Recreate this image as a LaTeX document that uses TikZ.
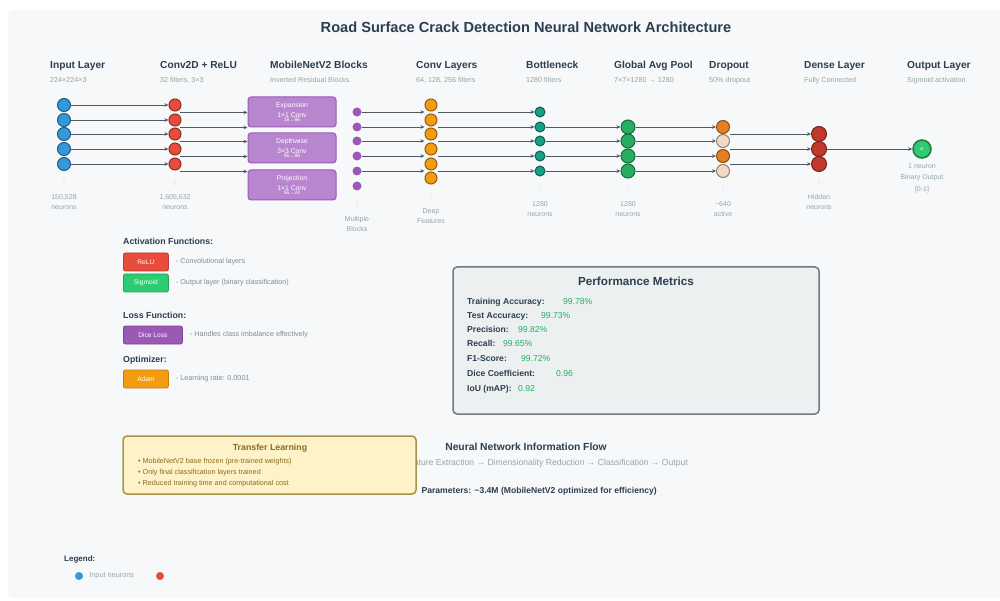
\documentclass[tikz,border=0pt]{standalone}
\usepackage{fontspec}
\setmainfont{Liberation Sans}
\newfontfamily\dejavu{DejaVu Sans}
\usetikzlibrary{positioning,arrows.meta,calc}
\definecolor{inkDark}{HTML}{2C3E50}
\definecolor{inkGray}{HTML}{95A5A6}
\definecolor{descGray}{HTML}{7F8C8D}
\definecolor{panelBg}{HTML}{F7F8FA}
\definecolor{wireGray}{HTML}{4F5A63}
\definecolor{inBlue}{HTML}{3498DB}
\definecolor{convRed}{HTML}{E74C3C}
\definecolor{mobPurple}{HTML}{9B59B6}
\definecolor{mobLight}{HTML}{B886CF}
\definecolor{featOrange}{HTML}{F39C12}
\definecolor{neckTeal}{HTML}{16A085}
\definecolor{poolGreen}{HTML}{27AE60}
\definecolor{dropOrange}{HTML}{E67E22}
\definecolor{dropFaded}{HTML}{F3D9C2}
\definecolor{denseRed}{HTML}{C0392B}
\definecolor{outGreen}{HTML}{2ECC71}
\definecolor{metricBg}{HTML}{ECF0F1}
\definecolor{metricEdge}{HTML}{6F7B7D}
\definecolor{noteBg}{HTML}{FDF2C8}
\definecolor{noteEdge}{HTML}{A8924A}
\definecolor{noteInk}{HTML}{8A6D1E}

\begin{document}
\begin{tikzpicture}[x=1pt, y=-1pt, >={Stealth[length=4pt,width=3.6pt]},
    font=\fontsize{7}{8}\selectfont,
    heading/.style={font=\fontsize{10.2}{12}\selectfont\bfseries, text=inkDark, anchor=base west, inner sep=0},
    sub/.style={font=\fontsize{7.2}{8}\selectfont, text=inkGray, anchor=base west, inner sep=0},
    note/.style={text=inkGray, align=center, inner sep=0, anchor=north, font=\fontsize{7}{10.5}\selectfont},
    vdots/.style={text=inkGray!60, inner sep=0, font=\dejavu\fontsize{7}{7}\selectfont},
    neuron/.style={circle, fill=#1, draw=#1!60!black, line width=1pt, inner sep=0, minimum size=12pt},
    wire/.style={->, draw=wireGray, line width=0.8pt},
    mblock/.style={draw=mobPurple, fill=mobLight, rounded corners=3pt, line width=1pt, minimum width=88pt,
      minimum height=30pt, text=white, align=center, inner sep=0, font=\fontsize{6.8}{7.5}\selectfont},
    tag/.style={fill=#1, draw=#1!80!black, rounded corners=2pt, line width=0.8pt, text=white,
      minimum height=18pt, inner sep=0, anchor=west, font=\fontsize{6.6}{7}\selectfont},
    desc/.style={font=\fontsize{7.2}{8}\selectfont, text=descGray, inner sep=0, anchor=west},
    subhead/.style={font=\fontsize{8.8}{10}\selectfont\bfseries, text=inkDark, anchor=base west, inner sep=0},
    metric/.style={font=\fontsize{8.6}{9}\selectfont\bfseries, text=inkDark, anchor=base west, inner sep=0},
    score/.style={font=\fontsize{8.6}{9}\selectfont, text=poolGreen, anchor=base west, inner sep=0}]
  \useasboundingbox (0,0) rectangle (1000,601);
  \fill[panelBg, rounded corners=6pt] (8,10) rectangle (1008,598);

  \node[font=\fontsize{14.6}{16}\selectfont\bfseries, text=inkDark] (title) at (526,27)
    {Road Surface Crack Detection Neural Network Architecture};

  % ---- layer headings
  \foreach \n/\x/\h/\s in {inp/50/{Input Layer}/{224×224×3}, conv/160/{Conv2D + ReLU}/{32 filters, 3×3},
      mob/270/{MobileNetV2 Blocks}/{Inverted Residual Blocks}, feat/416/{Conv Layers}/{64, 128, 256 filters},
      neck/526/{Bottleneck}/{1280 filters}, pool/614/{Global Avg Pool}/{7×7×1280 → 1280},
      drop/709/{Dropout}/{50\% dropout}, dense/804/{Dense Layer}/{Fully Connected},
      out/907/{Output Layer}/{Sigmoid activation}} {
    \node[heading] (hd-\n) at (\x,69) {\h};
    \node[sub] (sb-\n) at (\x,83) {\s};
  }

  % ---- neurons
  \foreach \y [count=\i] in {105,120,134,149,164} {
    \node[neuron=inBlue, minimum size=13pt] (in\i) at (64,\y) {};
    \node[neuron=convRed] (cv\i) at (175,\y) {};
    \draw[wire] (in\i) -- (cv\i);
  }
  \node[mblock] (mb1) at (292,112) {Expansion\\[2.5pt]1×1 Conv\\[-3pt]{\fontsize{5}{5}\selectfont 16→96}};
  \node[mblock] (mb2) at (292,148) {Depthwise\\[2.5pt]3×3 Conv\\[-3pt]{\fontsize{5}{5}\selectfont 96→96}};
  \node[mblock] (mb3) at (292,185) {Projection\\[2.5pt]1×1 Conv\\[-3pt]{\fontsize{5}{5}\selectfont 96→24}};
  \foreach \i in {1,...,5} {
    \coordinate (cvo\i) at ($(cv\i.south)+(5,1)$);
    \draw[wire] (cvo\i) -- (cvo\i -| mb1.west);
  }
  \foreach \y [count=\i] in {112,127,141,156,171,186}
    \node[circle, fill=mobPurple, inner sep=0, minimum size=9pt] (mp\i) at (357,\y) {};
  \foreach \y [count=\i] in {105,120,134,149,164,178}
    \node[neuron=featOrange] (cl\i) at (431,\y) {};
  \foreach \i in {1,...,5}
    \draw[wire] (mp\i) -- (mp\i -| cl1.west);
  \foreach \y [count=\i] in {112,127,141,156,171} {
    \node[neuron=neckTeal, minimum size=10pt] (bn\i) at (540,\y) {};
    \draw[wire] (bn\i -| cl1.east) -- (bn\i);
  }
  \foreach \y/\c [count=\i] in {127/dropOrange,141/dropFaded,156/dropOrange,171/dropFaded} {
    \node[neuron=poolGreen, minimum size=14pt] (gp\i) at (628,\y) {};
    \node[neuron=\c, minimum size=13pt] (dp\i) at (723,\y) {};
  }
  \foreach \i/\j in {1/2,2/3,3/4,4/5} {
    \draw[wire] (bn\j) -- (gp\i);
    \draw[wire] (gp\i) -- (dp\i);
  }
  \foreach \y [count=\i] in {134,149,164} {
    \node[neuron=denseRed, minimum size=15pt] (dn\i) at (819,\y) {};
    \draw[wire] (dn\i -| dp1.east) -- (dn\i);
  }
  \node[neuron=outGreen, minimum size=18pt, line width=1.5pt, text=white,
    font=\fontsize{5}{5}\selectfont] (out) at (922,149) {σ};
  \draw[wire] (dn2) -- (out);

  % ---- counts under the columns
  \foreach \n/\x/\dy/\t in {inp/64/183/{150,528\\neurons}, conv/175/183/{1,605,632\\neurons},
      mob/357/205/{Multiple\\Blocks}, feat/431/197/{Deep\\Features}, neck/540/190/{1280\\neurons},
      pool/628/190/{1280\\neurons}, drop/723/190/{\textasciitilde640\\active},
      dense/819/183/{Hidden\\neurons}} {
    \node[vdots] (dt-\n) at (\x,\dy) {⋮};
    \node[note] (nt-\n) at (\x,\dy+11) {\t};
  }
  \node[note, font=\fontsize{7}{11.5}\selectfont] (nt-out) at (922,163) {1 neuron\\Binary Output\\{[0-1]}};

  % ---- training setup
  \node[subhead] (hd-act) at (123,245) {Activation Functions:};
  \node[tag=convRed, minimum width=45pt] (relu) at (123,262) {ReLU};
  \node[desc, right=7pt of relu] (relu-d) {- Convolutional layers};
  \node[tag=outGreen, minimum width=45pt] (sigm) at (123,283) {Sigmoid};
  \node[desc, right=7pt of sigm] (sigm-d) {- Output layer (binary classification)};
  \node[subhead] (hd-loss) at (123,318) {Loss Function:};
  \node[tag=mobPurple, minimum width=59pt] (dice) at (123,335) {Dice Loss};
  \node[desc, right=7pt of dice] (dice-d) {- Handles class imbalance effectively};
  \node[subhead] (hd-opt) at (123,362) {Optimizer:};
  \node[tag=featOrange, minimum width=45pt] (adam) at (123,379) {Adam};
  \node[desc, right=7pt of adam] (adam-d) {- Learning rate: 0.0001};

  % ---- metrics
  \node[draw=metricEdge, fill=metricBg, rounded corners=4pt, line width=1.5pt, minimum width=366pt,
    minimum height=147pt, inner sep=0] (perf) at (636,340.5) {};
  \node[font=\fontsize{11.7}{13}\selectfont\bfseries, text=inkDark] (perf-t) at (636,281) {Performance Metrics};
  \foreach \n/\y/\l/\vx/\v in {tra/305/{Training Accuracy:}/563/{99.78\%}, tst/318/{Test Accuracy:}/541/{99.73\%},
      pre/332/{Precision:}/518/{99.82\%}, rec/346/{Recall:}/503/{99.65\%}, fone/361/{F1-Score:}/521/{99.72\%},
      dsc/376/{Dice Coefficient:}/556/{0.96}, iou/391/{IoU (mAP):}/518/{0.92}} {
    \node[metric] (m-\n) at (467,\y) {\l};
    \node[score] (v-\n) at (\vx,\y) {\v};
  }

  % ---- information flow
  \node[font=\fontsize{10.3}{12}\selectfont\bfseries, text=inkDark] (flow-t) at (526,447) {Neural Network Information Flow};
  \node[text=inkGray, anchor=east, inner sep=0, font=\fontsize{8.6}{9}\selectfont] (flow) at (688,463)
    {Feature Extraction → Dimensionality Reduction → Classification → Output};
  \node[text=inkDark, anchor=east, inner sep=0, font=\fontsize{8.6}{9}\selectfont\bfseries] (params) at (657,491)
    {Parameters: \textasciitilde3.4M (MobileNetV2 optimized for efficiency)};

  % ---- transfer learning note
  \node[draw=noteEdge, fill=noteBg, rounded corners=4pt, line width=1.5pt, minimum width=293pt,
    minimum height=58pt, inner sep=0] (transfer) at (269.5,465) {};
  \node[font=\fontsize{8.8}{10}\selectfont\bfseries, text=noteInk] (transfer-t) at (270,448) {Transfer Learning};
  \node[text=noteInk, anchor=north west, align=left, inner sep=0, font=\fontsize{7.2}{11}\selectfont]
    (transfer-b) at (138,458) {• MobileNetV2 base frozen (pre-trained weights)\\• Only final classification layers trained\\• Reduced training time and computational cost};

  % ---- legend
  \node[subhead, font=\fontsize{8}{9}\selectfont\bfseries] (leg) at (64,561) {Legend:};
  \node[circle, fill=inBlue, minimum size=8pt, inner sep=0] (leg-in) at (79,576) {};
  \node[desc, right=6pt of leg-in, text=inkGray, font=\fontsize{7.3}{8}\selectfont] (leg-in-t) {Input neurons};
  \node[circle, fill=convRed, minimum size=8pt, inner sep=0] (leg-cv) at (160,576) {};
\end{tikzpicture}
\end{document}
